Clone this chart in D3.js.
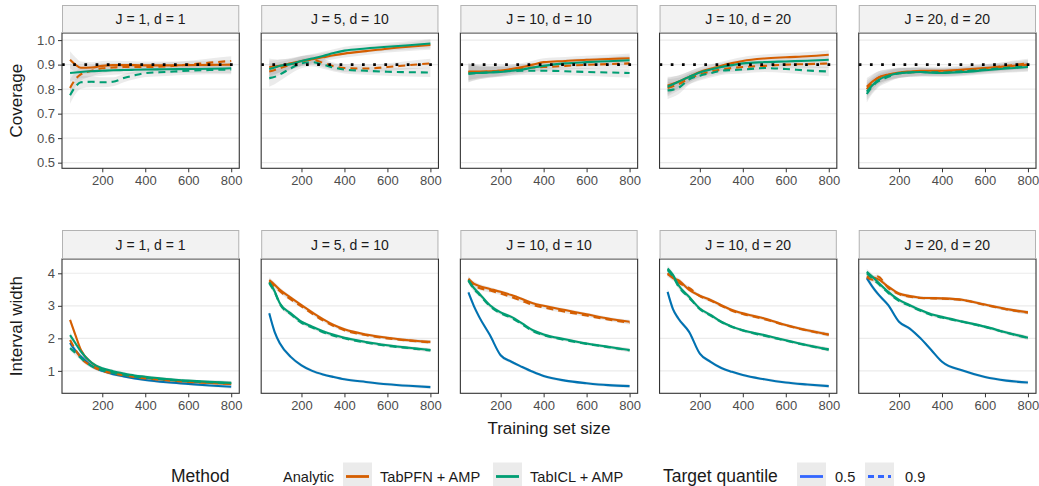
<!DOCTYPE html>
<meta charset="utf-8">
<style>
  body { margin: 0; background: #ffffff; }
  text { font-family: "Liberation Sans", Arial, sans-serif; fill: #1a1a1a; }
  .tick text { fill: #4d4d4d; font-size: 13px; }
  .tick line { stroke: #333333; }
  .strip text { font-size: 14px; }
  .axis-title { font-size: 17px; }
  .legend text { font-size: 14.6px; }
  .legend .ltitle { font-size: 17.5px; }
</style>
<svg id="chart" width="1039" height="486"></svg>
<script src="https://cdnjs.cloudflare.com/ajax/libs/d3/7.8.5/d3.min.js"></script>
<script>
// training set sizes shared by every series
var trainSizes = [50, 75, 100, 150, 200, 250, 300, 350, 400, 500, 600, 700, 800];
var facetLabels = ["J = 1, d = 1", "J = 5, d = 10", "J = 10, d = 10", "J = 10, d = 20", "J = 20, d = 20"];

// coverage, one row per facet
var covPFN_q50 = [
  [0.92, 0.90, 0.887, 0.888, 0.895, 0.898, 0.898, 0.898, 0.897, 0.897, 0.898, 0.899, 0.90],
  [0.89, 0.892, 0.895, 0.905, 0.915, 0.922, 0.93, 0.938, 0.945, 0.955, 0.965, 0.973, 0.98],
  [0.872, 0.872, 0.872, 0.873, 0.876, 0.882, 0.89, 0.90, 0.91, 0.915, 0.92, 0.923, 0.926],
  [0.815, 0.822, 0.83, 0.85, 0.87, 0.883, 0.895, 0.906, 0.915, 0.925, 0.93, 0.934, 0.94],
  [0.81, 0.83, 0.845, 0.86, 0.868, 0.872, 0.875, 0.875, 0.875, 0.88, 0.886, 0.893, 0.90]
];
var covPFN_q90 = [
  [0.805, 0.84, 0.86, 0.875, 0.885, 0.888, 0.89, 0.89, 0.89, 0.893, 0.90, 0.908, 0.915],
  [0.872, 0.878, 0.885, 0.90, 0.913, 0.92, 0.907, 0.893, 0.886, 0.884, 0.89, 0.898, 0.905],
  [0.87, 0.87, 0.87, 0.872, 0.875, 0.88, 0.885, 0.888, 0.89, 0.895, 0.899, 0.902, 0.905],
  [0.805, 0.812, 0.82, 0.843, 0.86, 0.872, 0.88, 0.886, 0.89, 0.895, 0.90, 0.902, 0.905],
  [0.80, 0.825, 0.845, 0.858, 0.865, 0.868, 0.87, 0.87, 0.87, 0.875, 0.885, 0.895, 0.905]
];
var covICL_q50 = [
  [0.866, 0.868, 0.87, 0.873, 0.875, 0.877, 0.878, 0.879, 0.88, 0.881, 0.882, 0.883, 0.885],
  [0.882, 0.888, 0.895, 0.902, 0.915, 0.925, 0.935, 0.947, 0.957, 0.966, 0.973, 0.979, 0.986],
  [0.865, 0.866, 0.866, 0.868, 0.87, 0.875, 0.88, 0.888, 0.895, 0.905, 0.91, 0.914, 0.918],
  [0.81, 0.82, 0.83, 0.85, 0.868, 0.88, 0.89, 0.898, 0.905, 0.91, 0.913, 0.916, 0.92],
  [0.79, 0.815, 0.835, 0.855, 0.865, 0.868, 0.87, 0.867, 0.866, 0.87, 0.877, 0.884, 0.89]
];
var covICL_q90 = [
  [0.775, 0.81, 0.828, 0.83, 0.828, 0.83, 0.845, 0.856, 0.865, 0.87, 0.875, 0.878, 0.88],
  [0.845, 0.85, 0.86, 0.885, 0.905, 0.91, 0.90, 0.888, 0.88, 0.875, 0.871, 0.869, 0.868],
  [0.862, 0.864, 0.866, 0.869, 0.872, 0.874, 0.875, 0.875, 0.875, 0.873, 0.87, 0.868, 0.866],
  [0.795, 0.798, 0.805, 0.84, 0.855, 0.865, 0.875, 0.878, 0.88, 0.886, 0.882, 0.876, 0.872],
  [0.78, 0.81, 0.83, 0.85, 0.865, 0.868, 0.87, 0.869, 0.868, 0.873, 0.88, 0.887, 0.893]
];

// interval width, one row per facet
var widAnalytic = [
  [1.86, 1.62, 1.45, 1.15, 1.0, 0.9, 0.83, 0.77, 0.72, 0.65, 0.6, 0.55, 0.51],
  [2.77, 2.2, 1.84, 1.43, 1.17, 1.0, 0.89, 0.81, 0.74, 0.66, 0.59, 0.54, 0.5],
  [3.41, 3.0, 2.66, 2.1, 1.48, 1.28, 1.12, 0.97, 0.84, 0.7, 0.62, 0.56, 0.53],
  [3.43, 2.9, 2.61, 2.2, 1.53, 1.28, 1.09, 0.97, 0.87, 0.74, 0.64, 0.58, 0.53],
  [3.85, 3.6, 3.38, 3.02, 2.51, 2.3, 2.0, 1.64, 1.28, 1.0, 0.81, 0.7, 0.64]
];
var widPFN_q50 = [
  [2.57, 2.1, 1.65, 1.25, 1.05, 0.95, 0.88, 0.82, 0.78, 0.72, 0.67, 0.63, 0.6],
  [3.79, 3.65, 3.49, 3.25, 3.02, 2.8, 2.59, 2.41, 2.28, 2.12, 2.02, 1.94, 1.89],
  [3.83, 3.68, 3.61, 3.52, 3.43, 3.33, 3.21, 3.08, 3.0, 2.87, 2.74, 2.61, 2.51],
  [4.0, 3.85, 3.79, 3.49, 3.31, 3.18, 3.02, 2.87, 2.77, 2.61, 2.41, 2.25, 2.12],
  [3.9, 3.88, 3.83, 3.59, 3.38, 3.3, 3.25, 3.24, 3.23, 3.18, 3.04, 2.9, 2.8]
];
var widPFN_q90 = [
  [1.95, 1.65, 1.4, 1.15, 1.0, 0.92, 0.86, 0.81, 0.77, 0.71, 0.66, 0.63, 0.6],
  [3.75, 3.6, 3.45, 3.2, 2.98, 2.76, 2.55, 2.38, 2.25, 2.1, 2.0, 1.93, 1.88],
  [3.8, 3.63, 3.55, 3.47, 3.38, 3.27, 3.15, 3.03, 2.95, 2.82, 2.7, 2.58, 2.48],
  [3.97, 3.88, 3.72, 3.55, 3.3, 3.16, 3.0, 2.85, 2.75, 2.59, 2.4, 2.24, 2.11],
  [3.88, 3.8, 3.9, 3.55, 3.36, 3.28, 3.24, 3.23, 3.22, 3.17, 3.03, 2.89, 2.79]
];
var widICL_q50 = [
  [2.1, 1.85, 1.6, 1.25, 1.08, 0.99, 0.92, 0.86, 0.82, 0.75, 0.7, 0.66, 0.63],
  [3.72, 3.45, 3.07, 2.77, 2.51, 2.36, 2.22, 2.11, 2.02, 1.89, 1.79, 1.71, 1.64],
  [3.79, 3.55, 3.38, 3.02, 2.8, 2.66, 2.46, 2.25, 2.12, 1.97, 1.84, 1.74, 1.64],
  [4.15, 3.95, 3.64, 3.28, 2.92, 2.72, 2.51, 2.36, 2.25, 2.1, 1.94, 1.79, 1.66],
  [4.05, 3.9, 3.74, 3.43, 3.18, 3.02, 2.87, 2.74, 2.66, 2.51, 2.36, 2.18, 2.02]
];
var widICL_q90 = [
  [1.7, 1.55, 1.4, 1.15, 1.02, 0.94, 0.88, 0.83, 0.79, 0.73, 0.68, 0.65, 0.62],
  [3.7, 3.42, 3.05, 2.74, 2.48, 2.33, 2.19, 2.08, 2.0, 1.87, 1.77, 1.7, 1.63],
  [3.77, 3.52, 3.35, 2.99, 2.77, 2.63, 2.43, 2.22, 2.1, 1.95, 1.83, 1.73, 1.63],
  [4.1, 3.9, 3.6, 3.25, 2.9, 2.7, 2.5, 2.35, 2.24, 2.08, 1.93, 1.78, 1.65],
  [4.0, 3.85, 3.7, 3.4, 3.15, 3.0, 2.85, 2.72, 2.64, 2.5, 2.35, 2.17, 2.01]
];

// half widths of the grey smoothing ribbons
var covBand = [0.035, 0.03, 0.026, 0.022, 0.02, 0.018, 0.017, 0.016, 0.016, 0.016, 0.016, 0.017, 0.019];
var widBand = [0.09, 0.08, 0.07, 0.06, 0.05, 0.05, 0.045, 0.045, 0.045, 0.045, 0.045, 0.05, 0.06];

var xTicks = [200, 400, 600, 800];
var covTicks = [0.5, 0.6, 0.7, 0.8, 0.9, 1.0];
var widTicks = [1, 2, 3, 4];
var targetCoverage = 0.9;

var cOrange = "#D55E00", cGreen = "#009E73", cBlue = "#0072B2", cKey = "#3366FF";

var svg = d3.select("#chart");

var xBand = d3.scaleBand().domain(facetLabels).range([62, 1036]).paddingInner(0.11);
var pw = xBand.bandwidth();
var x = d3.scaleLinear().domain([12.5, 837.5]).range([0, pw]);

var rows = [
  { stripTop: 5, top: 33, bottom: 168.3, domain: [0.477, 1.029], ticks: covTicks, fmt: d3.format(".1f"),
    title: "Coverage", band: covBand, hline: targetCoverage,
    series: [
      { vals: covPFN_q50, color: cOrange, dash: null },
      { vals: covPFN_q90, color: cOrange, dash: "7,5" },
      { vals: covICL_q50, color: cGreen, dash: null },
      { vals: covICL_q90, color: cGreen, dash: "7,5" }
    ] },
  { stripTop: 230, top: 259, bottom: 393.3, domain: [0.31, 4.44], ticks: widTicks, fmt: d3.format("d"),
    title: "Interval width", band: widBand, hline: null,
    series: [
      { vals: widAnalytic, color: cBlue, dash: null },
      { vals: widPFN_q50, color: cOrange, dash: null },
      { vals: widPFN_q90, color: cOrange, dash: "7,5" },
      { vals: widICL_q50, color: cGreen, dash: null },
      { vals: widICL_q90, color: cGreen, dash: "7,5" }
    ] }
];

rows.forEach(function(row) {
  var y = d3.scaleLinear().domain(row.domain).range([row.bottom - row.top, 0]);
  var ph = row.bottom - row.top;

  facetLabels.forEach(function(lab, fi) {
    var g = svg.append("g").attr("transform", "translate(" + xBand(lab) + "," + row.top + ")");

    // strip
    var strip = svg.append("g").attr("class", "strip")
      .attr("transform", "translate(" + xBand(lab) + "," + row.stripTop + ")");
    strip.append("rect").attr("x", 0.5).attr("y", 0.5).attr("width", pw - 1).attr("height", row.top - row.stripTop - 1)
      .attr("fill", "#f2f2f2").attr("stroke", "#b3b3b3");
    strip.append("text").attr("x", pw / 2).attr("y", (row.top - row.stripTop) / 2)
      .attr("text-anchor", "middle").attr("dominant-baseline", "central").text(lab);

    // grid
    g.selectAll(".grid").data(row.ticks).enter().append("line")
      .attr("x1", 0).attr("x2", pw).attr("y1", function(d) { return y(d); }).attr("y2", function(d) { return y(d); })
      .attr("stroke", "#ebebeb").attr("stroke-width", 1.1);

    // ribbons
    row.series.forEach(function(s) {
      var pts = trainSizes.map(function(n, i) { return { n: n, v: s.vals[fi][i], b: row.band[i] }; });
      g.append("path").datum(pts)
        .attr("fill", "#999999").attr("opacity", 0.2)
        .attr("d", d3.area().curve(d3.curveMonotoneX)
          .x(function(d) { return x(d.n); })
          .y0(function(d) { return y(d.v - d.b); })
          .y1(function(d) { return y(d.v + d.b); }));
    });

    // lines
    row.series.forEach(function(s) {
      var pts = trainSizes.map(function(n, i) { return { n: n, v: s.vals[fi][i] }; });
      g.append("path").datum(pts)
        .attr("fill", "none").attr("stroke", s.color).attr("stroke-width", 2.1)
        .attr("stroke-dasharray", s.dash)
        .attr("d", d3.line().curve(d3.curveMonotoneX)
          .x(function(d) { return x(d.n); })
          .y(function(d) { return y(d.v); }));
    });

    if (row.hline !== null) {
      g.append("line").attr("x1", 0).attr("x2", pw).attr("y1", y(row.hline)).attr("y2", y(row.hline))
        .attr("stroke", "#000000").attr("stroke-width", 2.7).attr("stroke-dasharray", "2.7,8.5");
    }

    // border
    g.append("rect").attr("x", 0).attr("y", 0).attr("width", pw).attr("height", ph)
      .attr("fill", "none").attr("stroke", "#333333").attr("stroke-width", 1.1);

    // x axis
    var xa = g.append("g").attr("transform", "translate(0," + ph + ")")
      .call(d3.axisBottom(x).tickValues(xTicks).tickSize(4).tickPadding(3));
    xa.select(".domain").remove();

    if (fi === 0) {
      var ya = g.append("g").call(d3.axisLeft(y).tickValues(row.ticks).tickFormat(row.fmt).tickSize(4).tickPadding(3));
      ya.select(".domain").remove();
    }
  });

  svg.append("text").attr("class", "axis-title")
    .attr("transform", "translate(22," + (row.top + row.bottom) / 2 + ") rotate(-90)")
    .attr("text-anchor", "middle").text(row.title);
});

svg.append("text").attr("class", "axis-title").attr("x", 549).attr("y", 434)
  .attr("text-anchor", "middle").text("Training set size");

// legend (positions follow the reference layout)
var legBase = 481.5, legMid = 476.5;
var leg = svg.append("g").attr("class", "legend");
function addText(str, cls, at) {
  var t = leg.append("text").attr("x", at).attr("y", legBase).text(str);
  if (cls) t.attr("class", cls);
}
function addKey(color, dash, at) {
  leg.append("rect").attr("x", at).attr("y", legMid - 14).attr("width", 29).attr("height", 28).attr("fill", "#ebebeb");
  leg.append("line").attr("x1", at + 3).attr("x2", at + 26).attr("y1", legMid).attr("y2", legMid)
    .attr("stroke", color).attr("stroke-width", 2.8).attr("stroke-dasharray", dash);
}
addText("Method", "ltitle", 171);
addText("Analytic", null, 283);
addKey(cOrange, null, 343);
addText("TabPFN + AMP", null, 380);
addKey(cGreen, null, 493);
addText("TabICL + AMP", null, 530);
addText("Target quantile", "ltitle", 663);
addKey(cKey, null, 797);
addText("0.5", null, 835);
addKey(cKey, "6,4", 865);
addText("0.9", null, 905);
</script>
